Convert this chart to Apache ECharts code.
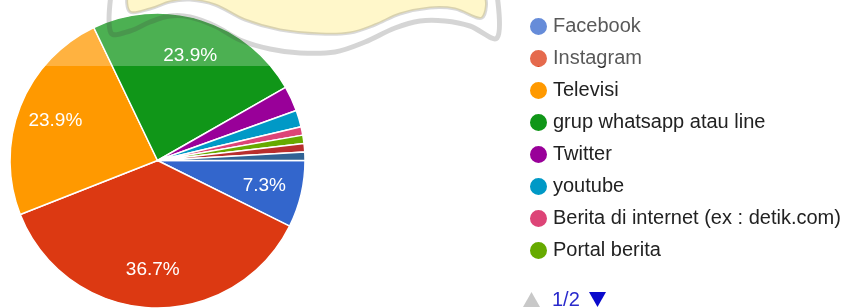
<!DOCTYPE html>
<html>
<head>
<meta charset="utf-8">
<script src="https://cdn.jsdelivr.net/npm/echarts@6/dist/echarts.min.js"></script>
<style>
html, body { margin: 0; padding: 0; background: #fff; }
#pie { width: 843px; height: 308px; }
</style>
</head>
<body>
<div id="pie"></div>
<script>
// answers (109 respondents)
var categories = ['Facebook', 'Instagram', 'Televisi', 'grup whatsapp atau line', 'Twitter',
    'youtube', 'Berita di internet (ex : detik.com)', 'Portal berita', 'Koran', 'Radio'];
var counts = [8, 40, 26, 26, 3, 2, 1, 1, 1, 1];
var colors = ['#3366cc', '#dc3912', '#ff9900', '#109618', '#990099',
    '#0099c6', '#dd4477', '#66aa00', '#b82e2e', '#316395'];
var legendPage = categories.slice(0, 8);
var pageText = '1/2';

var pieData = categories.map(function(name, i) {
    return { name: name, value: counts[i], itemStyle: { color: colors[i] } };
});

var myChart = echarts.init(document.getElementById('pie'));
var option = {
    animation: false,
    legend: {
        orient: 'vertical',
        left: 523,
        top: 11,
        icon: 'circle',
        itemWidth: 19,
        itemHeight: 19,
        itemGap: 11,
        data: legendPage,
        selectedMode: false,
        textStyle: {
            fontFamily: 'Arial',
            fontSize: 20,
            color: '#222'
        }
    },
    series: [
        {
            name: 'main',
            type: 'pie',
            center: [157.5, 160.5],
            radius: 147.5,
            startAngle: 0,
            clockwise: true,
            silent: true,
            label: { show: false },
            labelLine: { show: false },
            itemStyle: { borderColor: '#fff', borderWidth: 1.5 },
            data: pieData
        },
        {
            // transparent ring, only used to place the percent labels
            name: 'labels',
            type: 'pie',
            center: [157.5, 160.5],
            radius: [66, 147.5],
            startAngle: 0,
            clockwise: true,
            silent: true,
            percentPrecision: 1,
            avoidLabelOverlap: false,
            itemStyle: { color: 'rgba(0,0,0,0)', borderWidth: 0 },
            label: {
                show: true,
                position: 'inside',
                color: '#fff',
                fontFamily: 'Arial',
                fontSize: 19,
                formatter: function(p) {
                    return p.percent >= 5 ? p.percent.toFixed(1) + '%' : '';
                }
            },
            labelLine: { show: false },
            data: categories.map(function(name, i) { return { name: name, value: counts[i] }; })
        }
    ],
    graphic: [
        // faded watermark logo
        {
            type: 'polygon', z: 100, silent: true,
            shape: {
                smooth: 0.35,
                points: [[130, -5], [130, 12], [150, 9], [170, 2], [190, 0], [215, 5], [245, 20], [280, 30],
                    [320, 34], [350, 33], [375, 25], [400, 14], [430, 8], [455, 9], [482, 18], [482, -5]]
            },
            style: { fill: '#fff4b8', stroke: 'rgba(0,0,0,0.2)', lineWidth: 3 }
        },
        {
            type: 'polyline', z: 100, silent: true,
            shape: {
                smooth: 0.35,
                points: [[111, -5], [111, 33], [130, 31], [150, 22], [170, 16], [190, 17], [215, 26], [240, 40],
                    [270, 49], [300, 53], [335, 52], [365, 42], [395, 28], [420, 21], [445, 21], [470, 26],
                    [497, 38], [497, -5]]
            },
            style: { fill: null, stroke: 'rgba(0,0,0,0.22)', lineWidth: 5 }
        },
        {
            type: 'rect', z: 101, silent: true,
            shape: { x: 0, y: 0, width: 843, height: 66 },
            style: { fill: 'rgba(255,255,255,0.25)' }
        },
        // pager
        {
            type: 'polygon', z: 100, silent: true,
            shape: { points: [[523, 307], [540, 307], [531.5, 292]] },
            style: { fill: '#c8c8c8' }
        },
        {
            type: 'text', z: 100, silent: true,
            style: {
                x: 552, y: 300, text: pageText, fill: '#2a2acc',
                font: '20px Arial', textVerticalAlign: 'middle'
            }
        },
        {
            type: 'polygon', z: 100, silent: true,
            shape: { points: [[589, 292], [606, 292], [597.5, 307]] },
            style: { fill: '#0a0acc' }
        }
    ]
};
myChart.setOption(option);
</script>
</body>
</html>
